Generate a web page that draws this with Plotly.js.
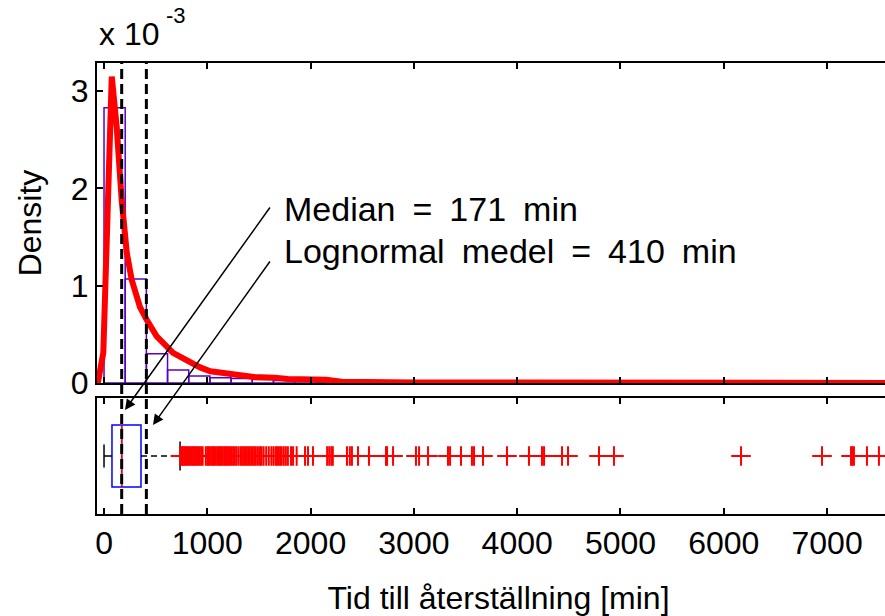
<!DOCTYPE html>
<html>
<head>
<meta charset="utf-8">
<script src="https://cdn.plot.ly/plotly-3.0.1.min.js"></script>
<style>
html, body { margin: 0; padding: 0; overflow: hidden; background: #fff; }
#chart { width: 900px; height: 616px; }
</style>
</head>
<body>
<div id="chart"></div>
<script>
// ---------- data (density in units of 10^-3) ----------
const histCenters = [102.5, 307.5, 512.5, 717.5, 922.5, 1127.5, 1332.5, 1537.5, 1742.5, 1947.5, 2152.5, 2357.5, 2562.5, 2767.5, 2972.5, 3177.5, 3382.5, 3587.5, 3792.5, 3997.5, 4202.5, 4407.5, 4612.5, 4817.5];
const histDensity = [2.83, 1.07, 0.30, 0.134, 0.072, 0.055, 0.045, 0.035, 0.025, 0.02, 0.015, 0.012, 0.01, 0.012, 0.02, 0.008, 0.01, 0.012, 0.004, 0.004, 0.008, 0.006, 0.003, 0.004];
const binWidth = 205;

const curveX = [-60, -7, 75, 123, 171, 220, 268, 348, 413, 510, 668, 832, 930, 1030, 1150, 1250, 1350, 1450, 1650, 1780, 2150, 2300, 3000, 4000, 5000, 6000, 7700];
const curveY = [0, 0.31, 3.15, 2.63, 1.88, 1.34, 1.06, 0.78, 0.65, 0.48, 0.31, 0.21, 0.16, 0.12, 0.10, 0.082, 0.075, 0.062, 0.055, 0.041, 0.032, 0.012, 0.006, 0.003, 0.002, 0.001, 0.0005];

const boxMin = 0, boxQ1 = 77, boxMedian = 171, boxQ3 = 358, boxUpper = 736;
const medianValue = 171, lognormalMean = 410;

const outliers = [740, 752, 762, 775, 786, 798, 810, 822, 835, 848, 860, 873, 885, 897, 910, 925, 940, 955, 985, 1000, 1012, 1025, 1040, 1055, 1068, 1080, 1095, 1110, 1122, 1135, 1150, 1165, 1178, 1190, 1205, 1220, 1235, 1250, 1265, 1280, 1300, 1320, 1335, 1350, 1365, 1380, 1395, 1410, 1425, 1440, 1455, 1470, 1490, 1510, 1525, 1545, 1570, 1595, 1620, 1640, 1660, 1675, 1690, 1705, 1720, 1740, 1760, 1780, 1810, 1830, 1865, 1946, 1975, 2023, 2160, 2180, 2200, 2215, 2352, 2380, 2400, 2459, 2565, 2730, 2740, 2798, 3020, 3050, 3137, 3330, 3350, 3456, 3562, 3582, 3669, 3901, 4114, 4240, 4260, 4434, 4492, 4792, 4937, 6167, 6951, 7232, 7245, 7260, 7386, 7502];

const xTickVals = [0, 1000, 2000, 3000, 4000, 5000, 6000, 7000];
const yTickVals = [0, 1, 2, 3];

const SP = '\u2002';
const textMedian = ['Median', '=', '171', 'min'].join(SP);
const textMean = ['Lognormal', 'medel', '=', '410', 'min'].join(SP);
const xTitle = 'Tid till återställning [min]';
const yTitle = 'Density';

// ---------- traces ----------
const FONT = 'Liberation Sans, Arial, sans-serif';
const traces = [
  {
    type: 'bar', x: histCenters, y: histDensity, width: binWidth,
    xaxis: 'x', yaxis: 'y',
    marker: { color: 'rgba(255,255,255,0)', line: { color: 'rgb(90,0,200)', width: 1.5 } },
    hoverinfo: 'skip'
  },
  {
    type: 'scatter', mode: 'lines', x: curveX, y: curveY,
    xaxis: 'x', yaxis: 'y',
    line: { color: '#ff0000', width: 6 }
  },
  {
    type: 'box', orientation: 'h', y: [0],
    q1: [boxQ1], median: [boxMedian], q3: [boxQ3],
    lowerfence: [boxQ1], upperfence: [boxQ3],
    width: 1.07, xaxis: 'x2', yaxis: 'y2',
    fillcolor: 'rgba(0,0,0,0)', line: { color: '#0000ff', width: 1.5 },
    whiskerwidth: 0, boxpoints: false
  },
  { type: 'scatter', mode: 'lines', x: [boxMin, boxQ1], y: [0, 0],
    xaxis: 'x2', yaxis: 'y2', line: { color: '#000', width: 1.5 } },
  { type: 'scatter', mode: 'lines', x: [boxMin, boxMin], y: [-0.2, 0.2],
    xaxis: 'x2', yaxis: 'y2', line: { color: '#000', width: 1.5 } },
  { type: 'scatter', mode: 'lines', x: [boxQ3, boxUpper], y: [0, 0],
    xaxis: 'x2', yaxis: 'y2', line: { color: '#000', width: 1.5, dash: '6px,4px' } },
  { type: 'scatter', mode: 'lines', x: [boxUpper, boxUpper], y: [-0.25, 0.25],
    xaxis: 'x2', yaxis: 'y2', line: { color: '#000', width: 1.5 } },
  { type: 'scatter', mode: 'lines', x: [boxMedian, boxMedian], y: [-0.535, 0.535],
    xaxis: 'x2', yaxis: 'y2', line: { color: '#ff0000', width: 1.5 } },
  { type: 'scatter', mode: 'markers', x: outliers, y: outliers.map(() => 0),
    xaxis: 'x2', yaxis: 'y2',
    marker: { symbol: 'cross-thin', size: 14, color: '#ff0000', line: { color: '#ff0000', width: 2 } } }
];

const xRange = [-68, 7706];
const axLine = { showline: true, linecolor: '#000', linewidth: 2, mirror: 'ticks', ticks: 'inside', ticklen: 6, tickwidth: 2, tickcolor: '#000', showgrid: false, zeroline: false };

const layout = {
  width: 900, height: 616,
  margin: { l: 97, r: 0, t: 63, b: 102 },
  paper_bgcolor: '#fff', plot_bgcolor: '#fff',
  showlegend: false,
  font: { family: FONT, size: 32, color: '#000' },
  xaxis: Object.assign({}, axLine, { range: xRange, domain: [0, 1], anchor: 'y', tickvals: xTickVals, showticklabels: false }),
  yaxis: Object.assign({}, axLine, { range: [0, 3.29], domain: [0.2905, 1], anchor: 'x', tickvals: yTickVals, ticktext: yTickVals.map(String),
    tickfont: { size: 32 }, title: { text: yTitle, font: { size: 32 }, standoff: 20 } }),
  xaxis2: Object.assign({}, axLine, { range: xRange, domain: [0, 1], anchor: 'y2', tickvals: xTickVals, ticktext: xTickVals.map(String),
    tickfont: { size: 32 }, title: { text: xTitle, font: { size: 32 }, standoff: 26 } }),
  yaxis2: { range: [-1, 1], domain: [0, 0.2572], anchor: 'x2', showline: true, linecolor: '#000', linewidth: 2, mirror: true,
    ticks: '', showticklabels: false, showgrid: false, zeroline: false },
  shapes: [medianValue, lognormalMean].map(v => ({
    type: 'line', xref: 'x', yref: 'paper', x0: v, x1: v, y0: 0, y1: 1,
    line: { color: '#000', width: 3, dash: '10px,5px' }, layer: 'above'
  })),
  annotations: [
    { xref: 'paper', yref: 'paper', x: 0, y: 1.065, xanchor: 'left', yanchor: 'middle', showarrow: false,
      text: 'x 10', font: { size: 32 } },
    { xref: 'paper', yref: 'paper', x: 0.083, y: 1.106, xanchor: 'left', yanchor: 'middle', showarrow: false,
      text: '-3', font: { size: 22 } },
    { xref: 'x', yref: 'y', x: 1723, y: 1.79, xanchor: 'left', yanchor: 'middle', showarrow: false,
      text: textMedian, font: { size: 34 } },
    { xref: 'x', yref: 'y', x: 1723, y: 1.357, xanchor: 'left', yanchor: 'middle', showarrow: false,
      text: textMean, font: { size: 34 } },
    { xref: 'x2', yref: 'y2', x: 203, y: 0.793, text: '', showarrow: true, axref: 'pixel', ayref: 'pixel',
      ax: 146, ay: -204, arrowhead: 2, arrowsize: 1.4, arrowwidth: 1.5, arrowcolor: '#000', standoff: 0 },
    { xref: 'x2', yref: 'y2', x: 474, y: 0.534, text: '', showarrow: true, axref: 'pixel', ayref: 'pixel',
      ax: 118, ay: -165, arrowhead: 2, arrowsize: 1.4, arrowwidth: 1.5, arrowcolor: '#000', standoff: 0 }
  ]
};

Plotly.newPlot('chart', traces, layout, { staticPlot: true, displayModeBar: false });
</script>
</body>
</html>
